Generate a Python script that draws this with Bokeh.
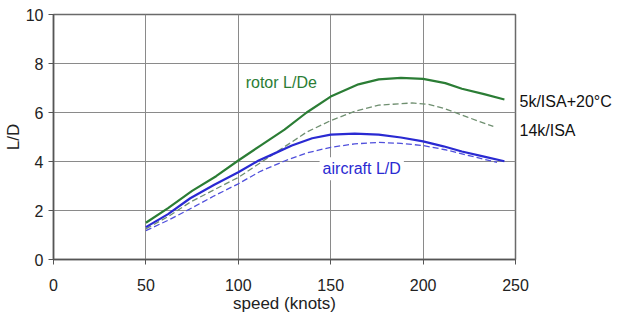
from bokeh.plotting import figure
from bokeh.models import Range1d, FixedTicker, Label, LinearAxis
from bokeh.embed import file_html
from bokeh.resources import INLINE

# speeds (knots) and L/D values
rotor_5k_x = [50, 62, 75, 88, 100, 112, 125, 137, 150, 165, 176, 188, 200, 212, 221, 233, 244]
rotor_5k_y = [1.5, 2.1, 2.8, 3.4, 4.04, 4.65, 5.3, 6.0, 6.65, 7.15, 7.35, 7.41, 7.37, 7.2, 6.97, 6.75, 6.53]

rotor_14k_x = [50, 62, 74, 87, 100, 112, 125, 137, 150, 163, 176, 194, 203, 212, 224, 238]
rotor_14k_y = [1.25, 1.75, 2.34, 2.85, 3.35, 3.95, 4.6, 5.2, 5.67, 6.05, 6.3, 6.39, 6.33, 6.15, 5.81, 5.43]

aircraft_5k_x = [50, 62, 74, 87, 100, 111, 117, 129, 140, 150, 163, 176, 188, 200, 211, 221, 233, 244]
aircraft_5k_y = [1.32, 1.85, 2.5, 3.05, 3.56, 4.04, 4.24, 4.65, 4.95, 5.1, 5.14, 5.1, 4.98, 4.82, 4.62, 4.41, 4.2, 4.01]

aircraft_14k_x = [50, 62, 74, 87, 100, 112, 125, 137, 150, 163, 176, 188, 200, 212, 221, 230, 240]
aircraft_14k_y = [1.18, 1.6, 2.07, 2.6, 3.09, 3.6, 4.02, 4.35, 4.58, 4.72, 4.78, 4.74, 4.65, 4.48, 4.31, 4.15, 3.96]

x_ticks = [0, 50, 100, 150, 200, 250]
y_ticks = [0, 2, 4, 6, 8, 10]

series_label_pos = [6.45, 5.27]
series_labels = ["5k/ISA+20°C", "14k/ISA"]

FONT = "Liberation Sans"
GREEN = "#2b7d35"
GREEN_D = "#6f8f70"
BLUE = "#2a2ad2"
BLUE_D = "#5050dc"

p = figure(output_backend="svg", toolbar_location=None,
           x_range=Range1d(0, 250), y_range=Range1d(0, 10),
           frame_width=462, frame_height=245,
           min_border_left=46, min_border_right=10, min_border_top=14, min_border_bottom=10)

p.xaxis.ticker = FixedTicker(ticks=x_ticks)
p.yaxis.ticker = FixedTicker(ticks=y_ticks)
p.xgrid.ticker = FixedTicker(ticks=x_ticks[1:-1])
p.ygrid.ticker = FixedTicker(ticks=y_ticks[1:-1])
p.grid.grid_line_color = "#8a8a8a"
p.grid.grid_line_width = 1
p.outline_line_color = "#6a6a6a"
p.outline_line_width = 1.5

for ax in (p.xaxis, p.yaxis):
    ax.axis_line_color = "#555555"
    ax.axis_line_width = 1.5
    ax.major_tick_line_color = "#555555"
    ax.major_tick_out = 5
    ax.major_tick_in = 0
    ax.minor_tick_line_color = None
    ax.major_label_text_font = FONT
    ax.major_label_text_font_size = "16px"
    ax.major_label_text_color = "#222222"
    ax.axis_label_text_font = FONT
    ax.axis_label_text_font_size = "17px"
    ax.axis_label_text_font_style = "normal"
    ax.axis_label_text_color = "#222222"

p.xaxis.axis_label = "speed (knots)"
p.yaxis.axis_label = "L/D"
p.xaxis.major_label_standoff = 14
p.xaxis.axis_label_standoff = 0
p.yaxis.major_label_standoff = 5
p.yaxis.axis_label_standoff = 0

right = LinearAxis(ticker=FixedTicker(ticks=series_label_pos),
                   major_label_overrides=dict(zip(series_label_pos, series_labels)),
                   axis_line_color=None, major_tick_line_color=None, minor_tick_line_color=None,
                   major_tick_out=0, major_tick_in=0,
                   major_label_standoff=4, major_label_text_font=FONT,
                   major_label_text_font_size="16px", major_label_text_color="#111111")
p.add_layout(right, "right")

p.line(rotor_14k_x, rotor_14k_y, line_color=GREEN_D, line_width=1.3, line_dash="6 3", line_join="round")
p.line(aircraft_14k_x, aircraft_14k_y, line_color=BLUE_D, line_width=1.3, line_dash="6 3", line_join="round")
p.line(rotor_5k_x, rotor_5k_y, line_color=GREEN, line_width=2.2, line_join="round")
p.line(aircraft_5k_x, aircraft_5k_y, line_color=BLUE, line_width=2.2, line_join="round")

p.add_layout(Label(x=104, y=7.22, text="rotor L/De", text_color=GREEN,
                   text_font=FONT, text_font_size="16px", text_baseline="middle"))
p.add_layout(Label(x=144, y=3.7, text="aircraft L/D", text_color=BLUE,
                   text_font=FONT, text_font_size="16px", text_baseline="middle",
                   background_fill_color="white", padding=3))

open("out.html", "w").write(file_html(p, INLINE))
